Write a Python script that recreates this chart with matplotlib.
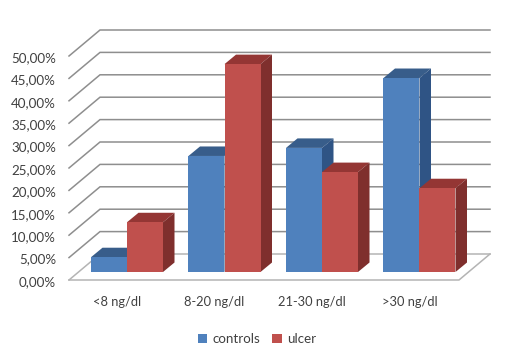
"""Clustered 3D-style column chart, drawn as an oblique projection on a 2D axes."""

import matplotlib
matplotlib.use('Agg')
import matplotlib.pyplot as plt
from matplotlib.patches import Patch, Polygon, Rectangle

plt.rcParams['font.family'] = ['Lato', 'DejaVu Sans']

categories = ['<8 ng/dl', '8-20 ng/dl', '21-30 ng/dl', '>30 ng/dl']
controls = [3.3, 25.9, 27.7, 43.3]
ulcer = [11.1, 46.4, 22.3, 18.7]
y_ticks = [0, 5, 10, 15, 20, 25, 30, 35, 40, 45, 50]

W, H = 510, 358
# pixel scale of the data axes
PX_X = 97.5
PX_Y = 4.48
LEFT_PX = 69
FLOOR_PX = 280

# depth offsets in data units
wall_dx = 31 / PX_X
wall_dy = 26 / PX_Y
bar_dx = 11.5 / PX_X
bar_dy = 9.5 / PX_Y
bar_x0 = 22 / PX_X
bar_w = 36 / PX_X
base = 8 / PX_Y

TEXT = '#404040'
GRID = '#8e8e8e'
BLUE = ('#4f81bd', '#385d8a', '#2f5485')
RED = ('#c0504d', '#943634', '#7f2f2d')

fig = plt.figure(figsize=(W / 100, H / 100), dpi=100)
ax = fig.add_axes([0, 0, 1, 1])
ax.set_xlim(-LEFT_PX / PX_X, (W - LEFT_PX) / PX_X)
ax.set_ylim((FLOOR_PX - H) / PX_Y, FLOOR_PX / PX_Y)
ax.axis('off')

n = len(categories)

# walls
for t in y_ticks:
    color = '#b4b4b4' if t == 0 else GRID
    ax.plot([0, wall_dx, n + wall_dx], [t, t + wall_dy, t + wall_dy],
            color=color, linewidth=1.1, zorder=1, solid_joinstyle='miter')
    ax.text(-13 / PX_X, t - 0.45, f'{t},00%', ha='right', va='center',
            fontsize=9.6, color=TEXT)
ax.plot([0, n, n + wall_dx], [0, 0, wall_dy], color='#b4b4b4', linewidth=1.1, zorder=1)


def draw_bar(x, value, colors, z):
    top = base + value
    ax.add_patch(Polygon([(x, top), (x + bar_dx, top + bar_dy),
                          (x + bar_w + bar_dx, top + bar_dy), (x + bar_w, top)],
                         facecolor=colors[1], edgecolor='none', zorder=z))
    ax.add_patch(Polygon([(x + bar_w, base), (x + bar_w + bar_dx, base + bar_dy),
                          (x + bar_w + bar_dx, top + bar_dy), (x + bar_w, top)],
                         facecolor=colors[2], edgecolor='none', zorder=z))
    ax.add_patch(Rectangle((x, base), bar_w, value, facecolor=colors[0],
                           edgecolor='none', zorder=z))


for i, cat in enumerate(categories):
    x = i + bar_x0
    draw_bar(x, controls[i], BLUE, 2 + i)
    draw_bar(x + bar_w, ulcer[i], RED, 2.5 + i)
    ax.text(x + bar_w - 10 / PX_X, -22 / PX_Y, cat, ha='center', va='center',
            fontsize=9.3, color=TEXT)

handles = [Patch(facecolor=BLUE[0], label='controls'), Patch(facecolor=RED[0], label='ulcer')]
ax.legend(handles=handles, loc='center', bbox_to_anchor=(257 / W, 1 - 339 / H), ncol=2,
          frameon=False, fontsize=9.6, labelcolor=TEXT, handlelength=0.7, handleheight=0.7,
          handletextpad=0.4, columnspacing=0.9)

fig.savefig('out.png', dpi=100)
plt.close(fig)
